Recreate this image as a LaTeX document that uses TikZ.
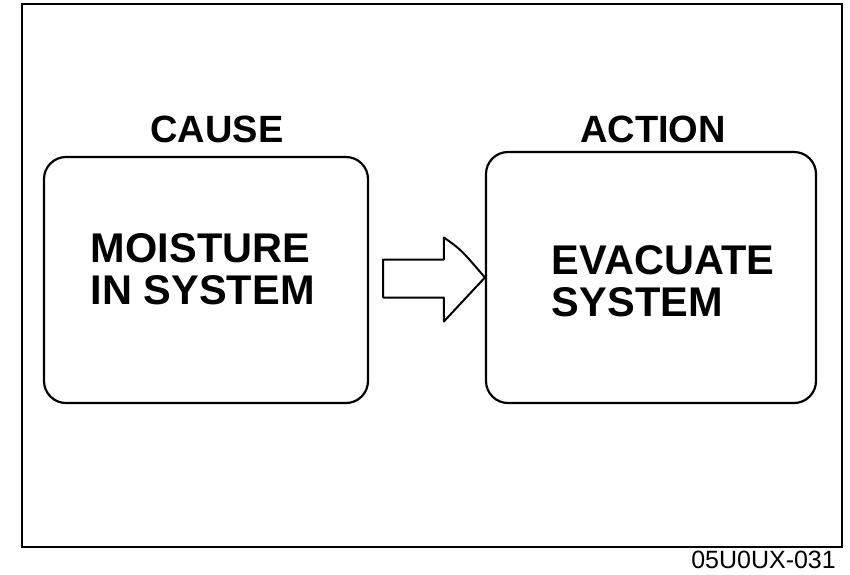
\documentclass[tikz,border=0pt]{standalone}
\usepackage{fontspec}
\setmainfont{Liberation Sans}
\usetikzlibrary{positioning}

\begin{document}
\begin{tikzpicture}[x=1pt,y=1pt,yscale=-1,xscale=1]
	\useasboundingbox (0,0) rectangle (850,574);
	\tikzset{
		roundbox/.style={draw,line width=2.2pt,rounded corners=22pt,inner sep=0pt},
		headtext/.style={inner sep=0.75pt,font=\fontsize{38}{40}\selectfont\bfseries},
		boxtext/.style={inner sep=0.75pt,align=left,font=\fontsize{41.5}{42}\selectfont\bfseries}
	}

	% Frame
	\draw [line width=1.6pt] (22,4) rectangle (842,547);
	% Cause box
	\node [roundbox,minimum width=324pt,minimum height=246pt] (cause) at (206,280) {};
	% Action box
	\node [roundbox,minimum width=330pt,minimum height=251pt] (action) at (651,277.5) {};
	% Text Node
	\node [headtext] (causelabel) at (217,129) {CAUSE};
	% Text Node
	\node [headtext] (actionlabel) at (653,129) {ACTION};
	% Text Node
	\node [boxtext,anchor=west] (causetext) at (90,269) {MOISTURE\\IN SYSTEM};
	% Text Node
	\node [boxtext,anchor=west] (actiontext) at (551,281) {EVACUATE\\SYSTEM};
	% Text Node
	\node [anchor=north east,inner sep=0pt,font=\fontsize{25}{25}\selectfont] (figno) at (836,551) {05U0UX-031};
	% Block arrow
	\coordinate (shaft) at ([xshift=14pt]cause.east |- action.west);
	\draw [line width=2pt,line join=round]
		([yshift=20pt]shaft) -- ([xshift=-41pt,yshift=20pt]action.west)
		-- ([xshift=-41pt,yshift=44pt]action.west)
		.. controls ([xshift=-28pt,yshift=30pt]action.west) .. (action.west)
		.. controls ([xshift=-24pt,yshift=-28pt]action.west) .. ([xshift=-41pt,yshift=-40pt]action.west)
		-- ([xshift=-41pt,yshift=-18pt]action.west) -- ([yshift=-18pt]shaft) -- cycle;

\end{tikzpicture}
\end{document}
